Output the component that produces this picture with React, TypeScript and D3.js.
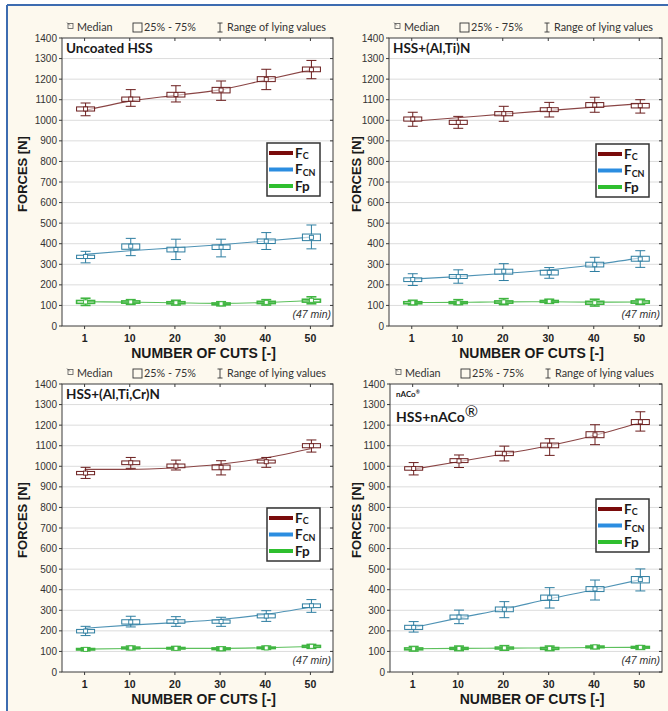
import * as d3 from 'd3';

const cuts = ['1', '10', '20', '30', '40', '50'];
const forceTicks = [0, 100, 200, 300, 400, 500, 600, 700, 800, 900, 1000, 1100, 1200, 1300, 1400];

// each entry: [min, q1, median, q3, max] for one number of cuts
const uncoatedFc = [[1022, 1045, 1055, 1065, 1084], [1068, 1092, 1103, 1113, 1149], [1089, 1113, 1125, 1136, 1168], [1097, 1133, 1147, 1160, 1191], [1149, 1188, 1199, 1212, 1248], [1202, 1236, 1246, 1259, 1291]];
const uncoatedFcn = [[307, 328, 338, 344, 363], [342, 373, 388, 399, 426], [323, 360, 372, 383, 422], [336, 372, 383, 394, 422], [372, 401, 412, 423, 454], [375, 415, 431, 447, 491]];
const uncoatedFp = [[100, 110, 117, 124, 135], [105, 111, 117, 122, 128], [102, 108, 113, 118, 125], [98, 103, 108, 112, 118], [102, 109, 115, 120, 128], [108, 116, 125, 130, 142]];
const uncoatedFcFit = [1047, 1093, 1121, 1148, 1196, 1245];
const uncoatedFcnFit = [348, 366, 380, 395, 413, 432];
const uncoatedFpFit = [118, 116, 113, 110, 114, 124];

const altinFc = [[971, 996, 1006, 1016, 1039], [961, 980, 990, 1000, 1019], [995, 1022, 1032, 1042, 1068], [1016, 1042, 1052, 1061, 1087], [1039, 1063, 1074, 1086, 1112], [1035, 1060, 1071, 1082, 1100]];
const altinFcn = [[197, 216, 226, 234, 254], [208, 231, 240, 250, 273], [221, 252, 266, 276, 303], [232, 248, 260, 271, 284], [265, 287, 298, 310, 334], [285, 315, 326, 339, 366]];
const altinFp = [[103, 108, 113, 118, 125], [104, 109, 113, 118, 128], [104, 111, 117, 122, 133], [110, 115, 120, 124, 130], [97, 106, 113, 120, 130], [105, 111, 117, 122, 130]];
const altinFcFit = [995, 1012, 1030, 1047, 1064, 1080];
const altinFcnFit = [228, 240, 255, 272, 298, 330];
const altinFpFit = [114, 115, 117, 118, 116, 117];

const altincrFc = [[941, 959, 967, 975, 995], [990, 1008, 1017, 1026, 1043], [982, 993, 1001, 1011, 1030], [958, 983, 995, 1006, 1027], [995, 1016, 1022, 1030, 1043], [1069, 1090, 1100, 1110, 1128]];
const altincrFcn = [[177, 190, 199, 207, 222], [219, 233, 243, 254, 271], [222, 237, 245, 254, 269], [222, 237, 245, 253, 266], [246, 263, 272, 282, 298], [290, 313, 322, 331, 352]];
const altincrFp = [[103, 107, 110, 114, 118], [108, 113, 117, 121, 126], [107, 112, 115, 119, 124], [104, 109, 113, 117, 122], [110, 114, 117, 121, 126], [115, 120, 125, 129, 134]];
const altincrFcFit = [985, 985, 993, 1010, 1040, 1085];
const altincrFcnFit = [213, 228, 240, 255, 280, 315];
const altincrFpFit = [111, 114, 115, 115, 118, 124];

const nacoFc = [[958, 981, 989, 998, 1018], [994, 1018, 1026, 1037, 1055], [1026, 1052, 1061, 1073, 1098], [1053, 1090, 1102, 1113, 1134], [1105, 1139, 1153, 1168, 1202], [1171, 1203, 1216, 1227, 1265]];
const nacoFcn = [[194, 207, 217, 227, 245], [235, 258, 267, 277, 301], [264, 293, 305, 316, 342], [311, 348, 361, 374, 410], [350, 391, 404, 415, 447], [394, 433, 449, 464, 501]];
const nacoFp = [[102, 108, 113, 117, 124], [104, 110, 115, 119, 126], [106, 112, 117, 121, 128], [104, 110, 115, 119, 126], [113, 118, 122, 126, 130], [110, 116, 120, 124, 128]];
const nacoFcFit = [985, 1022, 1060, 1100, 1150, 1212];
const nacoFcnFit = [215, 262, 305, 355, 400, 448];
const nacoFpFit = [113, 115, 116, 117, 119, 120];

const seriesNames = ['Fc', 'Fcn', 'Fp'];
const seriesStyle: Record<string, { box: string; line: string; key: string }> = {
  Fc: { box: '#6a1c1c', line: '#8a4545', key: '#7a0b0b' },
  Fcn: { box: '#2d7da0', line: '#4f93b5', key: '#2b8de0' },
  Fp: { box: '#3fb540', line: '#5cc05c', key: '#2fbf2f' },
};

const panels = [
  { title: 'Uncoated HSS', x0: 62, x1: 333, y0: 38, y1: 326, keyY: 143, yTitleX: 27, boxes: [uncoatedFc, uncoatedFcn, uncoatedFp], fits: [uncoatedFcFit, uncoatedFcnFit, uncoatedFpFit] },
  { title: 'HSS+(Al,Ti)N', x0: 389, x1: 662, y0: 38, y1: 326, keyY: 144, yTitleX: 361, boxes: [altinFc, altinFcn, altinFp], fits: [altinFcFit, altinFcnFit, altinFpFit] },
  { title: 'HSS+(Al,Ti,Cr)N', x0: 62, x1: 333, y0: 384, y1: 672, keyY: 508, yTitleX: 27, boxes: [altincrFc, altincrFcn, altincrFp], fits: [altincrFcFit, altincrFcnFit, altincrFpFit] },
  { title: 'HSS+nACo', x0: 390, x1: 662, y0: 384, y1: 672, keyY: 499, yTitleX: 361, boxes: [nacoFc, nacoFcn, nacoFp], fits: [nacoFcFit, nacoFcnFit, nacoFpFit], naco: true },
];

const sans = 'Liberation Sans, Arial, sans-serif';
const cal = 'Lato, Open Sans, sans-serif';

function Panel({ p }: { p: (typeof panels)[number] }) {
  const x = d3.scaleBand<string>().domain(cuts).range([p.x0, p.x1]);
  const y = d3.scaleLinear().domain([0, 1400]).range([p.y1, p.y0]);
  const cx = (i: number) => (x(cuts[i]) as number) + x.bandwidth() / 2;
  const fitLine = d3
    .line<number>()
    .x((_, i) => cx(i))
    .y((d) => y(d))
    .curve(d3.curveMonotoneX);
  const bw = 18;
  const cap = 10;
  const cxm = (p.x0 + p.x1) / 2;
  const kx = p.x1 - 66;
  const legendY = p.y0 - 11;

  return (
    <g>
      {/* top legend */}
      <g fontFamily={cal} fontSize={10.8} fill="#333">
        <rect x={p.x0 + 6} y={legendY - 3.5} width={5} height={5} fill="none" stroke="#555" strokeWidth={0.8} />
        <line x1={p.x0 + 5} y1={legendY - 4.5} x2={p.x0 + 8} y2={legendY - 1.5} stroke="#555" strokeWidth={0.8} />
        <text x={p.x0 + 15} y={legendY + 3.5}>Median</text>
        <rect x={p.x0 + 71} y={legendY - 4} width={9} height={9} fill="none" stroke="#333" strokeWidth={0.9} />
        <text x={p.x0 + 82} y={legendY + 3.5}>25% - 75%</text>
        <g stroke="#333" strokeWidth={0.9}>
          <line x1={p.x0 + 158} x2={p.x0 + 158} y1={legendY - 4} y2={legendY + 5} />
          <line x1={p.x0 + 155.5} x2={p.x0 + 160.5} y1={legendY - 4} y2={legendY - 4} />
          <line x1={p.x0 + 155.5} x2={p.x0 + 160.5} y1={legendY + 5} y2={legendY + 5} />
        </g>
        <text x={p.x0 + 165} y={legendY + 3.5}>Range of lying values</text>
      </g>

      {/* plot area */}
      <rect x={p.x0} y={p.y0} width={p.x1 - p.x0} height={p.y1 - p.y0} fill="#fff" />
      {forceTicks.slice(1, -1).map((t) => (
        <line key={t} x1={p.x0} x2={p.x1} y1={y(t)} y2={y(t)} stroke="#dcdcdc" strokeWidth={1} />
      ))}
      <rect x={p.x0} y={p.y0} width={p.x1 - p.x0} height={p.y1 - p.y0} fill="none" stroke="#3a3a3a" strokeWidth={1} />
      {forceTicks.map((t) => (
        <g key={t} stroke="#3a3a3a">
          <line x1={p.x0 - 3} x2={p.x0} y1={y(t)} y2={y(t)} />
          <line x1={p.x1 - 3} x2={p.x1} y1={y(t)} y2={y(t)} />
        </g>
      ))}
      {cuts.map((c, i) => (
        <g key={c} stroke="#3a3a3a">
          <line x1={cx(i)} x2={cx(i)} y1={p.y1} y2={p.y1 + 3} />
          <line x1={cx(i)} x2={cx(i)} y1={p.y0} y2={p.y0 + 3} />
        </g>
      ))}

      {/* axis labels */}
      <g fontFamily={sans} fontSize={10} fill="#333" textAnchor="end">
        {forceTicks.map((t) => (
          <text key={t} x={p.x0 - 5} y={y(t) + 3.5}>
            {t}
          </text>
        ))}
      </g>
      <g fontFamily={sans} fontSize={10.5} fontWeight="bold" fill="#222" textAnchor="middle">
        {cuts.map((c, i) => (
          <text key={c} x={cx(i)} y={p.y1 + 16}>
            {c}
          </text>
        ))}
      </g>
      <text x={cxm + 6} y={p.y1 + 32} fontFamily={sans} fontSize={14} fontWeight="bold" fill="#1a1a1a" textAnchor="middle">
        NUMBER OF CUTS [-]
      </text>
      <text
        transform={`translate(${p.yTitleX},${(p.y0 + p.y1) / 2 - 8}) rotate(-90)`}
        fontFamily={sans}
        fontSize={13}
        fontWeight="bold"
        fill="#1a1a1a"
        textAnchor="middle"
      >
        FORCES [N]
      </text>

      {/* fitted lines */}
      {p.fits.map((f, si) => (
        <path key={si} d={fitLine(f) ?? ''} fill="none" stroke={seriesStyle[seriesNames[si]].line} strokeWidth={1.1} />
      ))}

      {/* box plots */}
      {p.boxes.map((s, si) => {
        const col = seriesStyle[seriesNames[si]].box;
        const sw = si === 2 ? 1.6 : 1;
        return (
          <g key={si} stroke={col} strokeWidth={sw} fill="none">
            {s.map((d, i) => {
              const xc = cx(i) + 1;
              return (
                <g key={i}>
                  <line x1={xc} x2={xc} y1={y(d[0])} y2={y(d[4])} />
                  <line x1={xc - cap / 2} x2={xc + cap / 2} y1={y(d[0])} y2={y(d[0])} />
                  <line x1={xc - cap / 2} x2={xc + cap / 2} y1={y(d[4])} y2={y(d[4])} />
                  <rect x={xc - bw / 2} y={y(d[3])} width={bw} height={y(d[1]) - y(d[3])} fill={si === 2 ? 'none' : '#fff'} fillOpacity={0.6} />
                  <rect x={xc - 2} y={y(d[2]) - 2} width={4} height={4} fill="#fff" strokeWidth={0.9} />
                </g>
              );
            })}
          </g>
        );
      })}

      {/* titles */}
      {p.naco ? (
        <g fontFamily={cal} fontWeight="bold" fill="#1a1a1a">
          <text x={p.x0 + 6} y={p.y0 + 13} fontSize={8}>
            nACo<tspan fontSize={5} dy={-3}>®</tspan>
          </text>
          <text x={p.x0 + 6} y={p.y0 + 38} fontSize={14}>
            HSS+nACo<tspan fontSize={16} fontWeight="normal" dy={-5}>®</tspan>
          </text>
        </g>
      ) : (
        <text x={p.x0 + 4} y={p.y0 + 15} fontFamily={cal} fontSize={13.5} fontWeight="bold" fill="#1a1a1a">
          {p.title}
        </text>
      )}
      <text x={p.x1 - 2} y={p.y1 - 8} fontFamily={sans} fontSize={10.5} fontStyle="italic" fill="#333" textAnchor="end">
        (47 min)
      </text>

      {/* series key */}
      <rect x={kx} y={p.keyY} width={53} height={53} fill="#fff" stroke="#333" strokeWidth={1.5} />
      {seriesNames.map((n, i) => {
        const ly = p.keyY + 10 + i * 16.5;
        return (
          <g key={n}>
            <line x1={kx + 2} x2={kx + 26} y1={ly} y2={ly} stroke={seriesStyle[n].key} strokeWidth={4} />
            <text x={kx + 28} y={ly + 4.5} fontFamily={cal} fontWeight="bold" fontSize={13.5} fill="#1a1a1a">
              F
              {n === 'Fp' ? (
                <tspan>p</tspan>
              ) : (
                <tspan fontSize={9} dy={1.5}>
                  {n === 'Fc' ? 'C' : 'CN'}
                </tspan>
              )}
            </text>
          </g>
        );
      })}
    </g>
  );
}

export default function App() {
  return (
    <svg width={668} height={711} style={{ position: 'absolute', left: 0, top: 0 }}>
      <rect x={0} y={0} width={668} height={711} fill="#fff" />
      <rect x={7} y={5} width={661} height={706} fill="#fdf9ee" />
      <line x1={7} x2={668} y1={5} y2={5} stroke="#3d6cb0" strokeWidth={2} />
      <line x1={7} x2={7} y1={5} y2={711} stroke="#3d6cb0" strokeWidth={2} />
      {panels.map((p) => (
        <Panel key={p.title} p={p} />
      ))}
    </svg>
  );
}
